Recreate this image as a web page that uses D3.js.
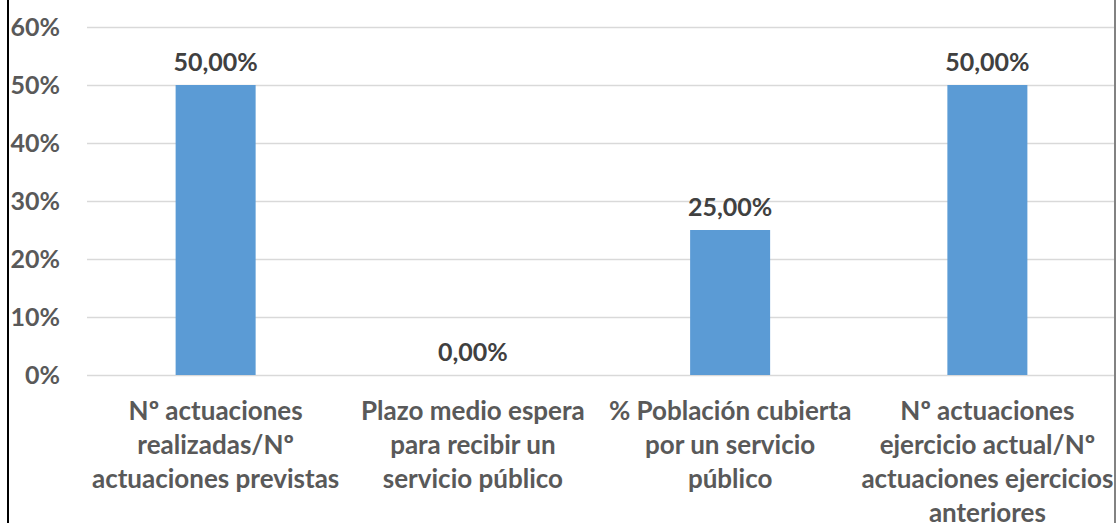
<!DOCTYPE html>
<html><head><meta charset="utf-8">
<script src="https://cdn.jsdelivr.net/npm/d3@7"></script>
<style>body{margin:0;background:#fff}svg{display:block}</style>
</head><body>
<script>
const categories = [
  ["Nº actuaciones","realizadas/Nº","actuaciones previstas"],
  ["Plazo medio espera","para recibir un","servicio público"],
  ["% Población cubierta","por un servicio","público"],
  ["Nº actuaciones","ejercicio actual/Nº","actuaciones ejercicios","anteriores"]
];
const values = [0.50, 0.00, 0.25, 0.50];
const valueLabels = ["50,00%","0,00%","25,00%","50,00%"];
const yTicks = [0,0.1,0.2,0.3,0.4,0.5,0.6];

const W=1117,H=523;
const svg=d3.select("body").append("svg").attr("width",W).attr("height",H);
const font="Lato, 'Open Sans', sans-serif";
const x=d3.scaleBand().domain(d3.range(categories.length)).range([87,1116]).paddingInner(0.689).paddingOuter(0.3445);
const y=d3.scaleLinear().domain([0,0.6]).range([375,27]);

const grid=svg.append("g");
grid.selectAll("line").data(yTicks).join("line")
  .attr("x1",87).attr("x2",1114).attr("y1",d=>Math.round(y(d))+0.5).attr("y2",d=>Math.round(y(d))+0.5)
  .attr("stroke","#d9d9d9").attr("stroke-width",1.5);

const yAxis=d3.axisLeft(y).tickValues(yTicks).tickFormat(d=>Math.round(d*100)+"%").tickSize(0).tickPadding(0);
const ya=svg.append("g").attr("transform","translate(60,0)").call(yAxis);
ya.select(".domain").remove();
ya.selectAll("text").attr("font-family",font).attr("font-weight","bold").attr("font-size",25).attr("fill","#595959").attr("dy","0.35em");

svg.append("g").selectAll("rect").data(values).join("rect")
  .attr("x",(d,i)=>x(i)).attr("width",x.bandwidth())
  .attr("y",d=>y(d)).attr("height",d=>y(0)-y(d)).attr("fill","#5b9bd5");

svg.append("g").selectAll("text").data(values).join("text")
  .attr("x",(d,i)=>x(i)+x.bandwidth()/2).attr("y",d=>y(d)-14)
  .attr("text-anchor","middle").attr("font-family",font).attr("font-weight","bold").attr("font-size",25).attr("fill","#404040")
  .text((d,i)=>valueLabels[i]);

const cat=svg.append("g").selectAll("text").data(categories).join("text")
  .attr("text-anchor","middle").attr("font-family",font).attr("font-weight","bold").attr("font-size",26).attr("fill","#595959")
  .attr("transform",(d,i)=>`translate(${x(i)+x.bandwidth()/2},420)`);
cat.selectAll("tspan").data(d=>d).join("tspan").attr("x",0).attr("y",(d,j)=>j*34).text(d=>d);

svg.append("line").attr("x1",8).attr("x2",8).attr("y1",0).attr("y2",H).attr("stroke","#000").attr("stroke-width",2);
svg.append("line").attr("x1",1115).attr("x2",1115).attr("y1",0).attr("y2",H).attr("stroke","#595959").attr("stroke-width",1.5);
</script>
</body></html>
